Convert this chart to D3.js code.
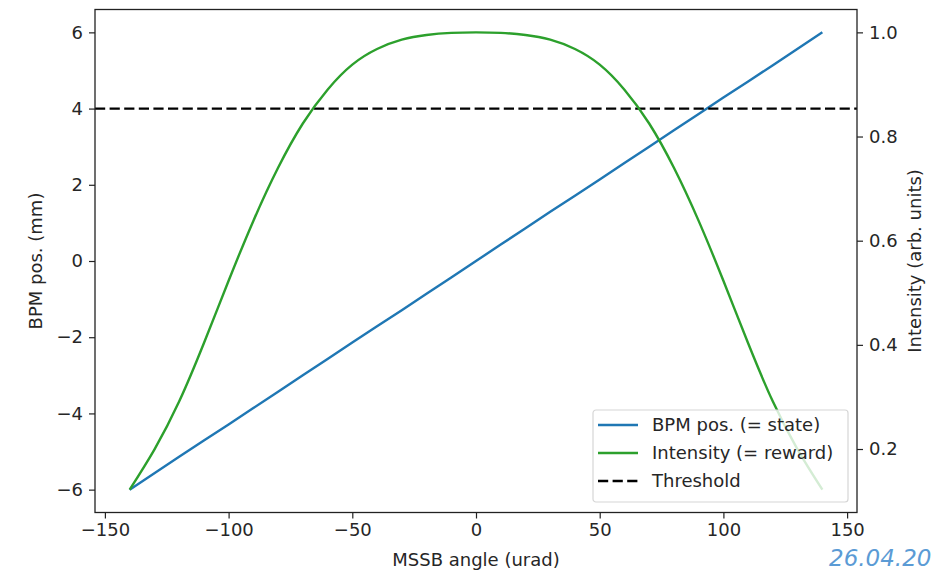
<!DOCTYPE html>
<html>
<head>
<meta charset="utf-8">
<script src="https://cdn.jsdelivr.net/npm/d3@7"></script>
<style>
  body { margin: 0; background: #fff; }
  svg text { font-family: "DejaVu Sans", sans-serif; fill: #262626; }
</style>
</head>
<body>
<div id="chart"></div>
<script>
const w = 941
const h = 571
const margin = { top: 9.5, right: 84, bottom: 58.5, left: 95 }

// MSSB angle (urad), sampled every 10
const angles = [-140, -130, -120, -110, -100, -90, -80, -70, -60, -50, -40, -30, -20, -10, 0,
                10, 20, 30, 40, 50, 60, 70, 80, 90, 100, 110, 120, 130, 140]
// BPM position (mm) = state
const bpmPos = [-6, -5.57, -5.14, -4.71, -4.29, -3.86, -3.43, -3, -2.57, -2.14, -1.71, -1.29, -0.86, -0.43, 0,
                0.43, 0.86, 1.29, 1.71, 2.14, 2.57, 3, 3.43, 3.86, 4.29, 4.71, 5.14, 5.57, 6]
// Intensity (arb. units) = reward
const intensity = [0.122, 0.199, 0.291, 0.403, 0.523, 0.638, 0.740, 0.825, 0.890, 0.938, 0.968, 0.986, 0.995, 0.999, 1.0,
                   0.999, 0.995, 0.986, 0.968, 0.938, 0.890, 0.825, 0.740, 0.638, 0.523, 0.403, 0.291, 0.199, 0.122]
const threshold = 4

const xTicks = [-150, -100, -50, 0, 50, 100, 150]
const yTicks = [-6, -4, -2, 0, 2, 4, 6]
const y2Ticks = [0.2, 0.4, 0.6, 0.8, 1.0]

const legendLabels = ["BPM pos. (= state)", "Intensity (= reward)", "Threshold"]
const colors = { bpm: "#1f77b4", intensity: "#2ca02c", threshold: "#000" }

// matplotlib style 5% margins
const pad = ext => {
  const d = (ext[1] - ext[0]) * 0.05
  return [ext[0] - d, ext[1] + d]
}

const svg = d3.select("#chart")
              .append("svg")
                .attr("width", w)
                .attr("height", h)

const xScale = d3.scaleLinear()
                  .domain(pad(d3.extent(angles)))
                  .range([margin.left, w - margin.right])

const yScale = d3.scaleLinear()
                  .domain(pad(d3.extent(bpmPos)))
                  .range([h - margin.bottom, margin.top])

const y2Scale = d3.scaleLinear()
                  .domain(pad(d3.extent(intensity)))
                  .range([h - margin.bottom, margin.top])

const fontSize = "18px"

// --- Axes ---
const styleAxis = g => {
  g.select(".domain").remove()
  g.selectAll(".tick line").attr("stroke", "#222").attr("stroke-width", 1.2)
  g.selectAll(".tick text").attr("font-size", fontSize).attr("fill", "#262626")
}

svg.append("g")
    .attr("transform", `translate(0,${h - margin.bottom})`)
    .call(d3.axisBottom(xScale).tickValues(xTicks).tickSize(6).tickPadding(5).tickFormat(d3.format("d")))
    .call(styleAxis)

svg.append("g")
    .attr("transform", `translate(${margin.left},0)`)
    .call(d3.axisLeft(yScale).tickValues(yTicks).tickSize(6).tickPadding(6).tickFormat(d3.format("d")))
    .call(styleAxis)

svg.append("g")
    .attr("transform", `translate(${w - margin.right},0)`)
    .call(d3.axisRight(y2Scale).tickValues(y2Ticks).tickSize(6).tickPadding(6).tickFormat(d3.format(".1f")))
    .call(styleAxis)

// --- Lines ---
const bpmLine = d3.line()
                  .x((d, i) => xScale(angles[i]))
                  .y(d => yScale(d))

const intensityLine = d3.line()
                  .x((d, i) => xScale(angles[i]))
                  .y(d => y2Scale(d))
                  .curve(d3.curveNatural)

svg.append("path")
    .datum(bpmPos)
    .attr("fill", "none")
    .attr("stroke", colors.bpm)
    .attr("stroke-width", 2.4)
    .attr("d", bpmLine)

svg.append("line")
    .attr("x1", xScale.range()[0])
    .attr("x2", xScale.range()[1])
    .attr("y1", yScale(threshold))
    .attr("y2", yScale(threshold))
    .attr("stroke", colors.threshold)
    .attr("stroke-width", 2.4)
    .attr("stroke-dasharray", "10.2,4.4")

svg.append("path")
    .datum(intensity)
    .attr("fill", "none")
    .attr("stroke", colors.intensity)
    .attr("stroke-width", 2.4)
    .attr("d", intensityLine)

// frame
svg.append("rect")
    .attr("x", margin.left)
    .attr("y", margin.top)
    .attr("width", w - margin.left - margin.right)
    .attr("height", h - margin.top - margin.bottom)
    .attr("fill", "none")
    .attr("stroke", "#222")
    .attr("stroke-width", 1.3)

// --- Labels ---
svg.append("text")
    .attr("x", (margin.left + w - margin.right) / 2)
    .attr("y", 566)
    .attr("text-anchor", "middle")
    .attr("font-size", fontSize)
    .text("MSSB angle (urad)")

svg.append("text")
    .attr("transform", `translate(42,${(margin.top + h - margin.bottom) / 2}) rotate(-90)`)
    .attr("text-anchor", "middle")
    .attr("font-size", fontSize)
    .text("BPM pos. (mm)")

svg.append("text")
    .attr("transform", `translate(921,${(margin.top + h - margin.bottom) / 2}) rotate(-90)`)
    .attr("text-anchor", "middle")
    .attr("font-size", fontSize)
    .text("Intensity (arb. units)")

// --- Legend ---
const legend = svg.append("g").attr("transform", "translate(593,410)")

legend.append("rect")
    .attr("width", 255)
    .attr("height", 92)
    .attr("rx", 3)
    .attr("fill", "#fff")
    .attr("fill-opacity", 0.8)
    .attr("stroke", "#d6d6d6")
    .attr("stroke-width", 1.2)

const legendColors = [colors.bpm, colors.intensity, colors.threshold]
legendLabels.forEach((label, i) => {
  const yRow = 15 + i * 28
  legend.append("line")
      .attr("x1", 5)
      .attr("x2", 45)
      .attr("y1", yRow)
      .attr("y2", yRow)
      .attr("stroke", legendColors[i])
      .attr("stroke-width", 2.4)
      .attr("stroke-dasharray", i === 2 ? "10.2,4.4" : null)
  legend.append("text")
      .attr("x", 59)
      .attr("y", yRow + 6)
      .attr("font-size", fontSize)
      .text(label)
})

// date stamp from the slide
svg.append("text")
    .attr("x", 829)
    .attr("y", 566)
    .attr("font-family", "'Open Sans', sans-serif")
    .attr("font-style", "italic")
    .attr("font-size", "23px")
    .style("fill", "#5b9bd5")
    .text("26.04.20")
</script>
</body>
</html>
